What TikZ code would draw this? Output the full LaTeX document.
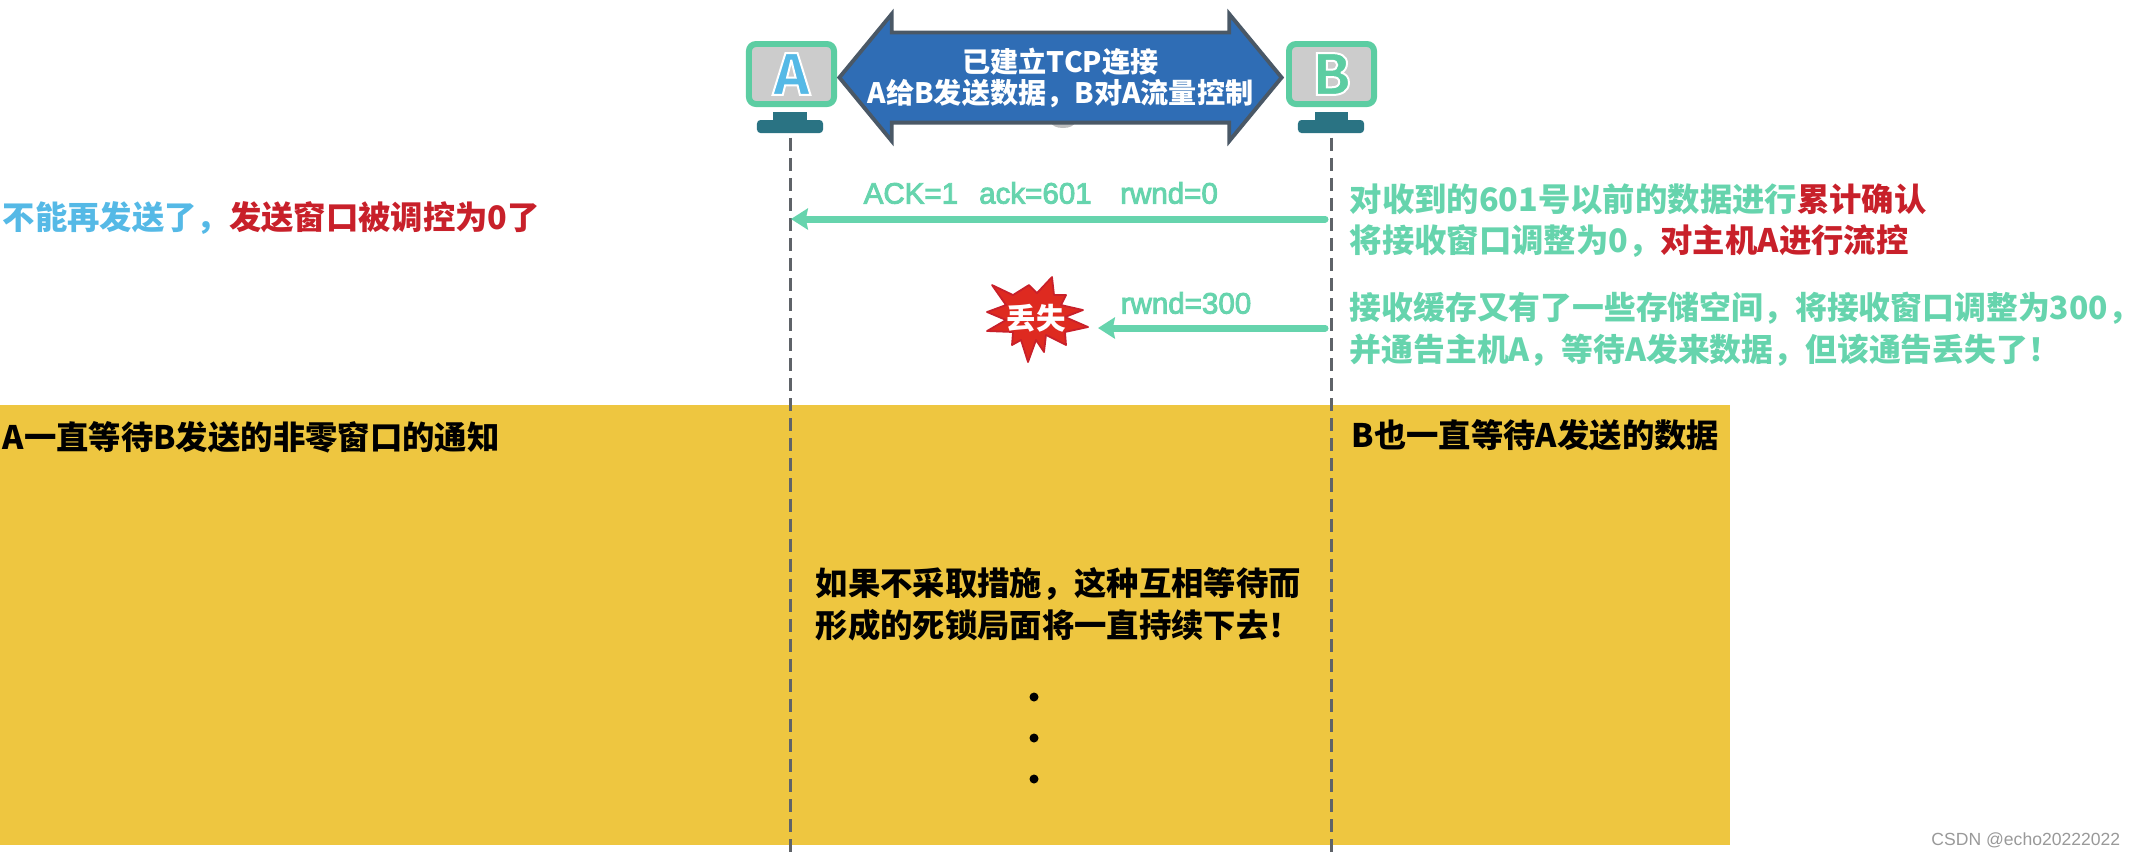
\documentclass[tikz,border=0pt]{standalone}
\usepackage{fontspec}
\setmainfont{Noto Sans CJK SC}
\newfontfamily\latinfont[FakeBold=3]{Liberation Sans}
\newfontfamily\markfont{Liberation Sans}
\newfontfamily\hostfont[BoldFeatures={FakeBold=3.5}]{Noto Sans CJK SC}
\usetikzlibrary{arrows.meta, shapes.arrows, positioning, calc}
\definecolor{cgreen}{HTML}{66D4AD}
\definecolor{cborder}{HTML}{5CCDA2}
\definecolor{csky}{HTML}{55B9E6}
\definecolor{cred}{HTML}{C8202A}
\definecolor{cburst}{HTML}{DE2A20}
\definecolor{cyellow}{HTML}{EEC640}
\definecolor{cblue}{HTML}{2F6DB5}
\definecolor{cedge}{HTML}{4A5866}
\definecolor{cteal}{HTML}{2A7383}
\definecolor{cgrey}{HTML}{5F6368}
\newcommand{\hostletter}[2]{\textcolor{#1}{\special{pdf:code 1 1 1 RG}#2}}
\tikzset{
  every picture/.style={font=\bfseries},
  hostbox/.style={draw=cborder, fill=black!20, line width=1.7pt, rounded corners=2pt, inner sep=0pt, minimum width=0.85cm, minimum height=0.60cm, font=\hostfont\bfseries\fontsize{16}{17}\selectfont},
  hostneck/.style={fill=cteal, inner sep=0pt, minimum width=0.33cm, minimum height=0.09cm},
  hostbase/.style={fill=cteal, rounded corners=1pt, inner sep=0pt, minimum width=0.66cm, minimum height=0.13cm},
  lifeline/.style={draw=cgrey, line width=0.85pt, dash pattern=on 3.7pt off 2pt},
  msg/.style={-{Stealth[length=4.8pt, width=6pt, inset=0.6pt]}, draw=cgreen, line width=2pt, line cap=round},
  msglabel/.style={anchor=west, inner sep=0pt, text=cgreen, font=\latinfont\fontsize{8.4}{10}\selectfont},
  note/.style={anchor=west, inner sep=0pt, align=left, font=\bfseries\fontsize{9.2}{11.7}\selectfont},
  banner/.style={double arrow, draw=cedge, fill=cblue, line width=1.1pt, inner xsep=0pt, inner ysep=0.42cm, minimum height=4.42cm, minimum width=1.27cm, double arrow head extend=0.18cm, double arrow tip angle=101},
  bannertext/.style={text=white, align=center, inner sep=0pt, font=\bfseries\fontsize{8}{8.8}\selectfont},
}
\begin{document}
\begin{tikzpicture}[x=0.01cm, y=-0.01cm]
  \useasboundingbox (0,0) rectangle (2136,856);
  \fill[cyellow] (0,405) rectangle (1730,845);
  % hosts
  \fill[black!25] (1063,122) ellipse (12 and 6);
  \node[hostbox] (hostA) at (791.5,74) {\hostletter{csky}{A}};
  \node[hostbox] (hostB) at (1331.5,74) {\hostletter{cborder}{B}};
  \node[hostneck] (neckA) at (790,116) {};
  \node[hostneck] (neckB) at (1331,116) {};
  \node[hostbase] (baseA) at (790,126.5) {};
  \node[hostbase] (baseB) at (1331,126.5) {};
  \node[banner] (link) at (1060.5,77.5) {};
  \node[bannertext] (linkText) at (link.center) {已建立TCP连接\\A给B发送数据，B对A流量控制};
  % lifelines
  \coordinate (endA) at (790,856);
  \coordinate (endB) at (1331,856);
  \draw[lifeline] ([yshift=-0.04cm]baseA.south) -- (endA);
  \draw[lifeline] ([yshift=-0.04cm]baseB.south) -- (endB);
  % messages
  \coordinate (ackFrom) at (1325,219);
  \coordinate (ackTo) at (791,219);
  \coordinate (winFrom) at (1325,328);
  \coordinate (winTo) at (1098,328);
  \draw[msg] (ackFrom) -- (ackTo);
  \draw[msg] (winFrom) -- (winTo);
  \node[msglabel] (ackLabel) at (863,193) {ACK=1\hspace{6pt}ack=601\hspace{8.1pt}rwnd=0};
  \node[msglabel] (winLabel) at (1120,303) {rwnd=300};
  % lost
  \draw[fill=cburst, draw=cred, line width=0.5pt, line join=round]
    (992,285) -- (1013,295) -- (1029,285) -- (1037,293) -- (1052,277) -- (1054,295)
    -- (1066,295) -- (1061,305) -- (1083,310) -- (1065,317) -- (1088,327) -- (1065,332)
    -- (1066,345) -- (1046,335) -- (1044,352) -- (1036,340) -- (1028,362) -- (1021,340)
    -- (1012,345) -- (1013,332) -- (987,331) -- (1006,320) -- (987,312) -- (1006,305) -- cycle;
  \node[inner sep=0pt, text=white, font=\bfseries\fontsize{8.4}{9}\selectfont] (lost) at (1036,318) {丢失};
  % texts
  \node[note, text=csky] (stopA) at (2,218) {不能再发送了，\textcolor{cred}{发送窗口被调控为0了}};
  \node[note, text=cgreen] (ackNote) at (1349,220.5) {对收到的601号以前的数据进行\textcolor{cred}{累计确认}\\将接收窗口调整为0，\textcolor{cred}{对主机A进行流控}};
  \node[note, text=cgreen, font=\bfseries\fontsize{9.05}{12}\selectfont] (winNote) at (1349,329) {接收缓存又有了一些存储空间，将接收窗口调整为300，\\并通告主机A，等待A发来数据，但该通告丢失了！};
  \node[note] (waitA) at (2,437) {A一直等待B发送的非零窗口的通知};
  \node[note] (waitB) at (1351,435) {B也一直等待A发送的数据};
  \node[note, font=\bfseries\fontsize{9.2}{12}\selectfont] (deadlock) at (815,604) {如果不采取措施，这种互相等待而\\形成的死锁局面将一直持续下去！};
  \foreach \y in {697,738,779}
    \fill (1034,\y) circle (4.5);
  \node[anchor=east, inner sep=0pt, text=black!40, font=\markfont\mdseries\fontsize{5}{6}\selectfont] (mark) at (2121,840) {CSDN @echo20222022};
\end{tikzpicture}
\end{document}
